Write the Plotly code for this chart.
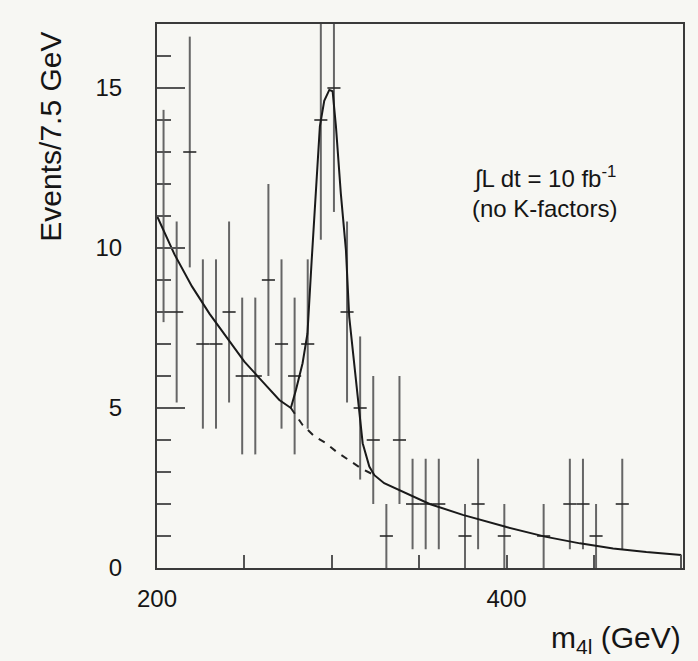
import plotly.graph_objects as go

# Observed events per 7.5 GeV bin (bin centres in GeV); empty bins omitted
m_centers = [203.75, 211.25, 218.75, 226.25, 233.75, 241.25, 248.75, 256.25,
             263.75, 271.25, 278.75, 286.25, 293.75, 301.25, 308.75, 316.25,
             323.75, 331.25, 338.75, 346.25, 353.75, 361.25, 376.25, 383.75,
             398.75, 421.25, 436.25, 443.75, 451.25, 466.25]
events = [11, 8, 13, 7, 7, 8, 6, 6,
          9, 7, 6, 7, 14, 15, 8, 5,
          4, 1, 4, 2, 2, 2, 1, 2,
          1, 1, 2, 2, 1, 2]
bin_width = 7.5

# Signal + background expectation
fit_m = [200, 210, 220, 230, 240, 250, 260, 270, 276.6, 279.5, 283.3, 286.1,
         288.5, 291.0, 293.2, 295.7, 298.6, 300.5, 302.4, 305.2, 308.1, 310.0,
         312.9, 315.4, 317.7, 321.5, 324.4, 330, 340, 356, 375, 400, 422, 442,
         461, 480, 500]
fit_y = [11.0, 9.8, 8.8, 7.95, 7.2, 6.45, 5.85, 5.25, 5.0, 5.56, 6.4, 7.33,
         9.6, 11.7, 13.8, 14.6, 14.94, 14.9, 13.8, 11.7, 9.94, 7.85,
         6.3, 4.94, 3.9, 3.17, 2.9, 2.65, 2.4, 2.0, 1.66, 1.28, 0.98, 0.77,
         0.61, 0.5, 0.41]

# Background-only continuation under the peak
bkg_m = [276.6, 283.3, 290, 296.7, 303, 308.1, 316.7, 324.4]
bkg_y = [5.0, 4.47, 4.12, 3.9, 3.62, 3.43, 3.12, 2.9]

FONT = "Liberation Sans, Arial, Helvetica, sans-serif"
BG = "#f7f7f3"
INK = "#151515"

fig = go.Figure()

fig.add_trace(go.Scatter(
    x=m_centers, y=events, mode="markers",
    marker=dict(size=1, color="rgba(0,0,0,0)"),
    error_y=dict(type="data", array=[v ** 0.5 for v in events],
                 color="#666666", thickness=2, width=0),
    error_x=dict(type="constant", value=bin_width / 2,
                 color="#2a2a2a", thickness=1.6, width=0),
    showlegend=False, hoverinfo="skip",
))

fig.add_trace(go.Scatter(
    x=bkg_m, y=bkg_y, mode="lines",
    line=dict(color="#222222", width=2, dash="7px,7px"),
    showlegend=False, hoverinfo="skip",
))

fig.add_trace(go.Scatter(
    x=fit_m, y=fit_y, mode="lines",
    line=dict(color="#1a1a1a", width=2),
    showlegend=False, hoverinfo="skip",
))

fig.update_layout(
    width=698, height=661,
    margin=dict(l=157, r=15, t=24, b=93),
    paper_bgcolor=BG, plot_bgcolor=BG,
    font=dict(family=FONT, color=INK, size=20),
    xaxis=dict(
        range=[200, 501], showgrid=False, zeroline=False,
        showline=True, linecolor="#3a3a3a", linewidth=2, mirror=True,
        ticks="inside", ticklen=13, tickwidth=1.5, tickcolor="#555",
        tickvals=[200, 250, 300, 350, 400, 450, 500],
        ticktext=["200", "", "", "", "400", "", ""],
        tickfont=dict(size=24), ticklabelstandoff=8,
    ),
    yaxis=dict(
        range=[0, 17], showgrid=False, zeroline=False,
        showline=True, linecolor="#3a3a3a", linewidth=2, mirror=True,
        ticks="inside", ticklen=28, tickwidth=1.5, tickcolor="#555",
        tick0=0, dtick=5,
        minor=dict(ticks="inside", ticklen=14, tickwidth=1.5,
                   tickcolor="#555", dtick=1, showgrid=False),
        tickfont=dict(size=24), ticklabelstandoff=28,
    ),
    annotations=[
        dict(text="\u222bL dt = 10 fb<sup>-1</sup>", xref="x", yref="y",
             x=422, y=12.2, xanchor="center", yanchor="middle",
             showarrow=False, font=dict(size=24)),
        dict(text="(no K-factors)", xref="x", yref="y",
             x=422, y=11.25, xanchor="center", yanchor="middle",
             showarrow=False, font=dict(size=24)),
        dict(text="Events/7.5 GeV", xref="paper", yref="paper",
             x=-0.203, y=0.99, xanchor="center", yanchor="top",
             textangle=-90, showarrow=False, font=dict(size=30)),
        dict(text="m<sub>4l</sub> (GeV)", xref="paper", yref="paper",
             x=1.0, y=-0.132, xanchor="right", yanchor="middle",
             showarrow=False, font=dict(size=30)),
    ],
)

fig.write_html("out.html")
